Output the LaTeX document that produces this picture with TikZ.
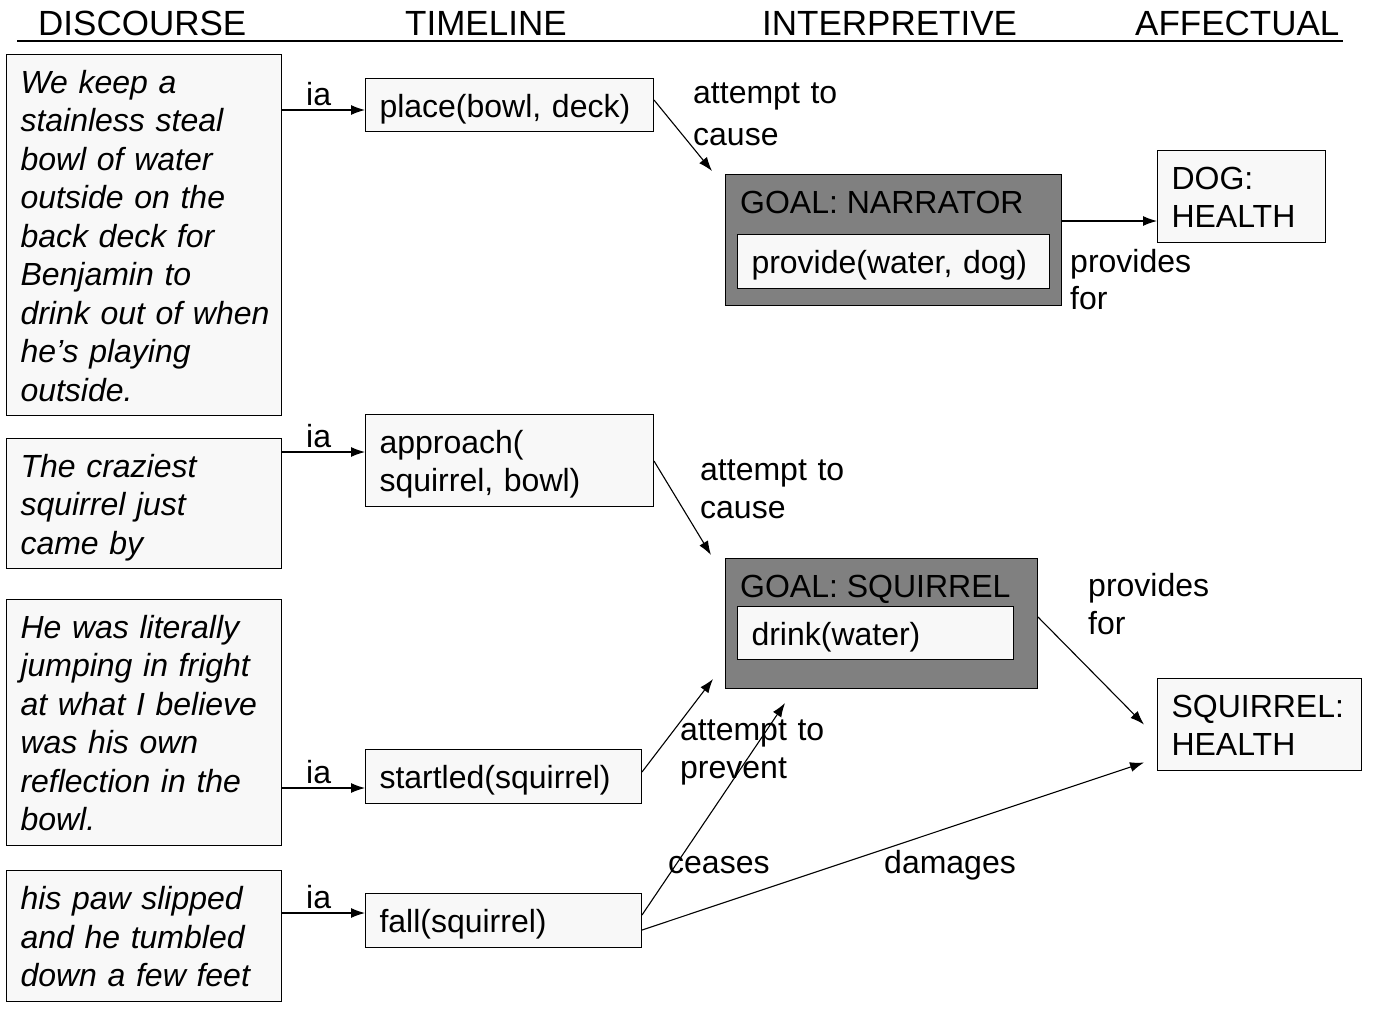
\documentclass[tikz,border=0pt]{standalone}
\usepackage{fontspec}
\setmainfont{Liberation Sans}
\usetikzlibrary{arrows.meta,calc}
\definecolor{boxfill}{HTML}{F8F8F8}
\definecolor{goalfill}{HTML}{808080}
\newcommand\mytopstrut{\rule{0pt}{36pt}}
\begin{document}
\begin{tikzpicture}[x=1pt,y=-1pt,
  bodyfont/.style={font=\fontsize{32}{38.5}\selectfont},
  box/.style={draw=black, line width=1pt, fill=boxfill, rectangle, anchor=north west,
    align=left, inner xsep=14pt, inner ysep=0pt, bodyfont},
  dbox/.style={box, font=\fontsize{32}{38.5}\selectfont\itshape},
  goalbox/.style={draw=black, line width=1pt, fill=goalfill, rectangle, anchor=north west, inner sep=0pt},
  lbl/.style={inner sep=0pt, anchor=base west, bodyfont},
  mlbl/.style={inner sep=0pt, anchor=north west, align=left, text width=200pt, font=\fontsize{32}{38.5}\selectfont},
  head/.style={inner sep=0pt, anchor=base west, font=\fontsize{35}{40}\selectfont},
  arr/.style={-{Latex[length=14pt,width=10pt]}, line width=1.1pt}]
\useasboundingbox (0,0) rectangle (1382,1009);

% headings
\node[head] (h1) at (38,35) {DISCOURSE};
\node[head] (h2) at (405,35) {TIMELINE};
\node[head] (h3) at (762,35) {INTERPRETIVE};
\node[head] (h4) at (1135,35) {AFFECTUAL};
\coordinate (hl) at (17,41);
\coordinate (hr) at (1343,41);
\draw[line width=2pt] (hl) -- (hr);

% discourse
\node[dbox, text width=247pt, minimum height=361pt] (d1) at (6,54)
  {\mytopstrut We keep a\\ stainless steal\\ bowl of water\\ outside on the\\ back deck for\\ Benjamin to\\ \mbox{drink out of when}\\ he’s playing\\ outside.\strut};
\node[dbox, text width=247pt, minimum height=130pt] (d2) at (6,438)
  {\mytopstrut The craziest\\ squirrel just\\ came by\strut};
\node[dbox, text width=247pt, minimum height=246pt] (d3) at (6,599)
  {\mytopstrut He was literally\\ jumping in fright\\ at what I believe\\ was his own\\ reflection in the\\ bowl.\strut};
\node[dbox, text width=247pt, minimum height=131pt] (d4) at (6,870)
  {\mytopstrut his paw slipped\\ and he tumbled\\ down a few feet\strut};

% timeline
\node[box, text width=260pt, minimum height=53pt] (t1) at (365,78) {\mytopstrut place(bowl, deck)\strut};
\node[box, text width=260pt, minimum height=92pt] (t2) at (365,414) {\mytopstrut approach(\\ squirrel, bowl)\strut};
\node[box, text width=248pt, minimum height=54pt] (t3) at (365,749) {\mytopstrut startled(squirrel)\strut};
\node[box, text width=248pt, minimum height=54pt] (t4) at (365,893) {\mytopstrut fall(squirrel)\strut};

% ia arrows
\draw[arr] (d1.east |- 0,110) -- (t1.west |- 0,110);
\draw[arr] (d2.east |- 0,452) -- (t2.west |- 0,452);
\draw[arr] (d3.east |- 0,788) -- (t3.west |- 0,788);
\draw[arr] (d4.east |- 0,913) -- (t4.west |- 0,913);
\node[lbl] (ia1) at (306,105) {ia};
\node[lbl] (ia2) at (306,447) {ia};
\node[lbl] (ia3) at (306,783) {ia};
\node[lbl] (ia4) at (306,908) {ia};

% goals
\node[goalbox, minimum width=336pt, minimum height=131pt] (gn) at (725,174) {};
\node[lbl] (gnt) at (740,213) {GOAL: NARRATOR};
\node[box, text width=284pt, minimum height=54pt] (gni) at (737,234) {\mytopstrut provide(water, dog)\strut};

\node[goalbox, minimum width=312pt, minimum height=130pt] (gs) at (725,558) {};
\node[lbl] (gst) at (740,597) {GOAL: SQUIRREL};
\node[box, text width=248pt, minimum height=53pt] (gsi) at (737,606) {\mytopstrut drink(water)\strut};

% affectual
\node[box, text width=140pt, minimum height=92pt] (dog) at (1157,150) {\mytopstrut DOG:\\ HEALTH\strut};
\node[box, text width=176pt, minimum height=92pt] (sqh) at (1157,678) {\mytopstrut SQUIRREL:\\ HEALTH\strut};

% connectors
\draw[arr] (t1.east |- 0,100) -- ($(gn.north west)+(-13,-3)$);
\node[mlbl, font=\fontsize{32}{42}\selectfont] (l1) at (693,74) {\strut attempt to\\ cause};
\draw[arr] (t2.east |- 0,461) -- ($(gs.north west)+(-14,-3)$);
\node[mlbl] (l2) at (700,453) {\strut attempt to\\ cause};
\draw[arr] (gn.east |- 0,221) -- (dog.west |- 0,221);
\node[mlbl, font=\fontsize{32}{37.5}\selectfont] (l3) at (1070,246) {\strut provides\\ for};
\draw[arr] (gs.east |- 0,617) -- ($(sqh.west)+(-13,0)$);
\node[mlbl, font=\fontsize{32}{38}\selectfont] (l4) at (1088,570) {\strut provides\\ for};
\draw[arr] (t3.east |- 0,772) -- ($(gs.south west)+(-12,-10)$);
\node[mlbl, font=\fontsize{32}{38}\selectfont] (l5) at (680,714) {\strut attempt to\\ prevent};
\draw[arr] (t4.east |- 0,915) -- ($(gs.south west)+(60,14)$);
\node[lbl] (l6) at (668,873) {ceases};
\draw[arr] (t4.east |- 0,930) -- ($(sqh.west)+(-13,38)$);
\node[lbl] (l7) at (884,873) {damages};
\end{tikzpicture}
\end{document}
